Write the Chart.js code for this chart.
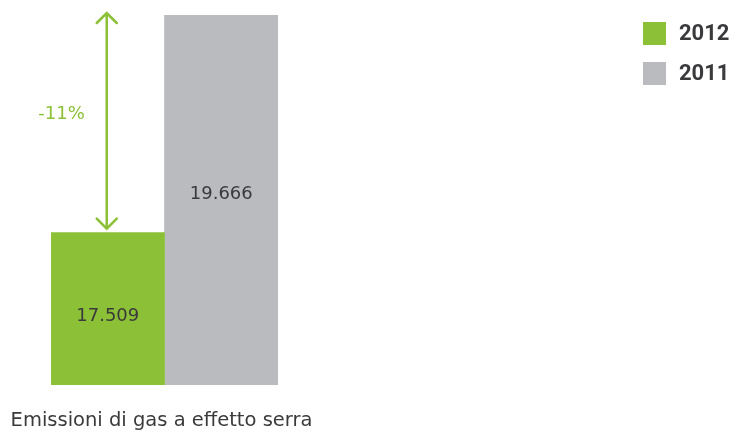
<!DOCTYPE html>
<html>
<head>
<meta charset="utf-8">
<script src="https://cdn.jsdelivr.net/npm/chart.js@4"></script>
<style>
  html, body { margin: 0; padding: 0; background: #fff; }
  #wrap { width: 736px; height: 432px; position: relative; }
</style>
</head>
<body>
<div id="wrap"><canvas id="emChart"></canvas></div>
<script>
// Emissioni di gas serra, 2012 vs 2011
const categories = ['Emissioni di gas a effetto serra'];
const years = ['2012', '2011'];
const values2012 = [17509];
const values2011 = [19666];
const colors = ['#8cc036', '#babbbf'];

const textDark = '#3a3a3c';
const fontFamily = '"DejaVu Sans", sans-serif';

// value label inside each bar + category name under the bars
const barLabels = {
    id: 'barLabels',
    afterDatasetsDraw(chart) {
        const ctx = chart.ctx;
        const bottom = chart.chartArea.bottom;
        ctx.save();
        ctx.font = '18px ' + fontFamily;
        ctx.fillStyle = textDark;
        ctx.textAlign = 'center';
        ctx.textBaseline = 'middle';
        chart.data.datasets.forEach((ds, i) => {
            chart.getDatasetMeta(i).data.forEach((bar, j) => {
                const v = ds.data[j];
                const y = bar.y + (bottom - bar.y) / 2 + (i === 0 ? 7 : -6);
                ctx.fillText(v.toLocaleString('it-IT'), bar.x, y);
            });
        });
        ctx.font = '19.5px ' + fontFamily;
        const xs = chart.scales.x;
        categories.forEach((c, k) => {
            ctx.fillText(c, xs.getPixelForTick(k) - 3, bottom + 36);
        });
        ctx.restore();
    }
};

// double arrow showing the change between the two years
const deltaArrow = {
    id: 'deltaArrow',
    afterDatasetsDraw(chart) {
        const ctx = chart.ctx;
        const y = chart.scales.y;
        const bar = chart.getDatasetMeta(0).data[0];
        const x = bar.x - 1;
        const top = y.getPixelForValue(values2011[0]) - 2;
        const bottom = y.getPixelForValue(values2012[0]) - 4;
        const pct = Math.round((values2012[0] - values2011[0]) / values2011[0] * 100);
        ctx.save();
        ctx.strokeStyle = colors[0];
        ctx.lineWidth = 2.5;
        ctx.lineCap = 'round';
        ctx.beginPath();
        ctx.moveTo(x, top); ctx.lineTo(x, bottom);
        ctx.moveTo(x - 10, top + 10); ctx.lineTo(x, top); ctx.lineTo(x + 10, top + 10);
        ctx.moveTo(x - 10, bottom - 10); ctx.lineTo(x, bottom); ctx.lineTo(x + 10, bottom - 10);
        ctx.stroke();
        ctx.font = '18px ' + fontFamily;
        ctx.fillStyle = colors[0];
        ctx.textAlign = 'right';
        ctx.textBaseline = 'middle';
        ctx.fillText(pct + '%', x - 22, (top + bottom) / 2 - 7);
        ctx.restore();
    }
};

// legend in the top right corner
const sideLegend = {
    id: 'sideLegend',
    afterDraw(chart) {
        const ctx = chart.ctx;
        ctx.save();
        ctx.font = 'bold 22px Roboto, "Liberation Sans", sans-serif';
        ctx.textBaseline = 'middle';
        chart.data.datasets.forEach((ds, i) => {
            const cy = 33 + i * 40;
            ctx.fillStyle = ds.backgroundColor;
            ctx.fillRect(643, cy - 11, 23, 23);
            ctx.fillStyle = textDark;
            ctx.fillText(ds.label, 679, cy + 1);
        });
        ctx.restore();
    }
};

new Chart(document.getElementById('emChart'), {
    type: 'bar',
    data: {
        labels: categories,
        datasets: [
            { label: years[0], data: values2012, backgroundColor: colors[0] },
            { label: years[1], data: values2011, backgroundColor: colors[1] }
        ]
    },
    options: {
        responsive: true,
        maintainAspectRatio: false,
        animation: false,
        layout: { padding: { left: 51, right: 458, top: 15, bottom: 47 } },
        datasets: { bar: { categoryPercentage: 1, barPercentage: 1 } },
        plugins: {
            legend: { display: false },
            tooltip: { enabled: false }
        },
        scales: {
            x: {
                display: false
            },
            y: {
                display: false,
                min: 16000,
                max: 19666
            }
        }
    },
    plugins: [barLabels, deltaArrow, sideLegend]
});
</script>
</body>
</html>
